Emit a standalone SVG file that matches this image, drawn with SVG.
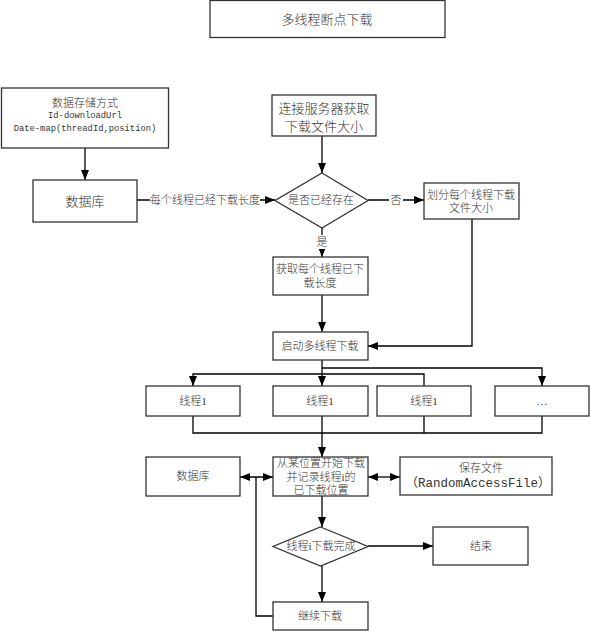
<svg xmlns="http://www.w3.org/2000/svg" width="590" height="631" viewBox="0 0 590 631">
<style>
.box{fill:#fff;stroke:#333;stroke-width:1.3}
.t{font-family:"Liberation Serif","Noto Sans CJK SC",serif;font-size:11px;font-weight:300;fill:#333;text-anchor:middle;dominant-baseline:central}
.tl{font-size:13px}
.m{font-family:"Liberation Mono","Noto Sans CJK SC",monospace;font-size:8.8px;fill:#333;text-anchor:middle;dominant-baseline:central}
.c{fill:none;stroke:#000;stroke-width:1.3}
.a{marker-end:url(#ah)}
.d{marker-start:url(#as);marker-end:url(#ah)}
.lbg{fill:#fff;stroke:none}
</style>
<defs>
<marker id="ah" markerUnits="userSpaceOnUse" markerWidth="10" markerHeight="10" viewBox="0 0 10 10" refX="10" refY="5" orient="auto">
<path d="M0,1 L10,5 L0,9 Z" fill="#000"/>
</marker>
<marker id="as" markerUnits="userSpaceOnUse" markerWidth="10" markerHeight="10" viewBox="0 0 10 10" refX="0" refY="5" orient="auto">
<path d="M10,1 L0,5 L10,9 Z" fill="#000"/>
</marker>
</defs>
<rect width="590" height="631" fill="#fff"/>

<g id="connectors">
<path class="c a" d="M85,148 V180"/>
<path class="c a" d="M137,200 H275"/>
<rect class="lbg" x="150" y="192" width="110" height="16"/>
<text class="t" x="205" y="200">每个线程已经下载长度</text>
<path class="c a" d="M322,136 V173"/>
<path class="c a" d="M368,200 H424"/>
<rect class="lbg" x="389" y="193" width="14" height="14"/>
<text class="t" x="396" y="200">否</text>
<path class="c a" d="M322,228 V257"/>
<rect class="lbg" x="315" y="235" width="14" height="14"/>
<text class="t" x="322" y="242">是</text>
<path class="c a" d="M322,295 V332"/>
<path class="c a" d="M472,219 V346 H368"/>
<path class="c a" d="M322,360 V386"/>
<path class="c a" d="M322,368 H542 V386"/>
<path class="c a" d="M424,386 V374 H193 V386"/>
<path class="c" d="M193,416 V433 H542 V416"/>
<path class="c" d="M424,416 V433"/>
<path class="c a" d="M322,416 V457"/>
<path class="c d" d="M240,477 H273"/>
<path class="c d" d="M368,477 H400"/>
<path class="c a" d="M322,496 V527"/>
<path class="c a" d="M368,546 H433"/>
<path class="c a" d="M322,566 V602"/>
<path class="c" d="M273,616 H256 V477"/>
</g>

<g id="title">
<rect class="box" x="210" y="0.5" width="235" height="37"/>
<text class="t tl" x="327" y="19">多线程断点下载</text>
</g>

<g id="storage">
<rect class="box" x="1.5" y="88" width="167" height="60"/>
<text class="t" x="85" y="103">数据存储方式</text>
<text class="m" x="85" y="116">Id-downloadUrl</text>
<text class="m" x="85" y="129">Date-map(threadId,position)</text>
</g>

<g id="db1">
<rect class="box" x="33" y="180" width="104" height="42"/>
<text class="t tl" x="85" y="201">数据库</text>
</g>

<g id="connect">
<rect class="box" x="272" y="95" width="104" height="41"/>
<text class="t tl" x="324" y="108">连接服务器获取</text>
<text class="t tl" x="324" y="126">下载文件大小</text>
</g>

<g id="exists">
<path class="box" d="M322,173 L368,200.5 L322,228 L275,200.5 Z"/>
<text class="t" x="321" y="200">是否已经存在</text>
</g>

<g id="divide">
<rect class="box" x="424" y="183" width="95" height="36"/>
<text class="t" x="471" y="195">划分每个线程下载</text>
<text class="t" x="471" y="208">文件大小</text>
</g>

<g id="getlen">
<rect class="box" x="273" y="257" width="95" height="38"/>
<text class="t" x="320" y="269">获取每个线程已下</text>
<text class="t" x="320" y="283">载长度</text>
</g>

<g id="start">
<rect class="box" x="273" y="332" width="95" height="28"/>
<text class="t" x="320" y="346">启动多线程下载</text>
</g>

<g id="thread1">
<rect class="box" x="146" y="386" width="94" height="30"/>
<text class="t" x="193" y="401">线程1</text>
</g>
<g id="thread2">
<rect class="box" x="273" y="386" width="95" height="30"/>
<text class="t" x="320" y="401">线程1</text>
</g>
<g id="thread3">
<rect class="box" x="377" y="386" width="94" height="30"/>
<text class="t" x="424" y="401">线程1</text>
</g>
<g id="thread4">
<rect class="box" x="495" y="386" width="94" height="30"/>
<text class="t" x="542" y="401">…</text>
</g>

<g id="db2">
<rect class="box" x="146" y="457" width="94" height="39"/>
<text class="t" x="193" y="476">数据库</text>
</g>

<g id="record">
<rect class="box" x="273" y="457" width="95" height="39"/>
<text class="t" x="321" y="463">从某位置开始下载</text>
<text class="t" x="321" y="477">并记录线程i的</text>
<text class="t" x="321" y="490">已下载位置</text>
</g>

<g id="save">
<rect class="box" x="400" y="457" width="152" height="38"/>
<text class="t" x="481" y="468">保存文件</text>
<text class="m" style="font-size:12.5px" x="478" y="484">（RandomAccessFile）</text>
</g>

<g id="done">
<path class="box" d="M320.5,527 L368,546.5 L320.5,566 L273,546.5 Z"/>
<text class="t" x="321" y="546">线程i下载完成</text>
</g>

<g id="end">
<rect class="box" x="433" y="527" width="95" height="38"/>
<text class="t" x="481" y="546">结束</text>
</g>

<g id="continue">
<rect class="box" x="273" y="602" width="95" height="28"/>
<text class="t" x="320" y="616">继续下载</text>
</g>
</svg>
